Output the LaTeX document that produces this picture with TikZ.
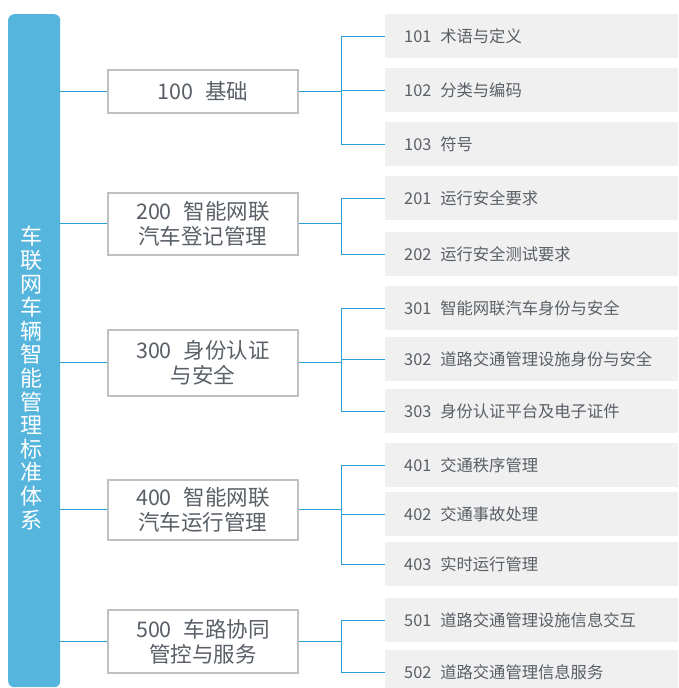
\documentclass[tikz,border=0pt]{standalone}
\usepackage{fontspec}
\setmainfont{Noto Sans CJK SC}
\usetikzlibrary{positioning}

\definecolor{barblue}{HTML}{55B5DD}
\definecolor{linkblue}{HTML}{2B9FD6}
\definecolor{boxgray}{HTML}{C0C0C0}
\definecolor{itemgray}{HTML}{F0F0F0}
\definecolor{txtgray}{HTML}{595F66}

\newcommand{\numgap}{\hspace{0.55em}}

\tikzset{
  bar/.style={fill=barblue, rounded corners=6pt, minimum width=52pt, minimum height=673pt, anchor=north west, inner sep=0pt},
  bartext/.style={text=white, align=center, font=\fontsize{22}{23.6}\selectfont, inner sep=0pt},
  catbox/.style={draw=boxgray, line width=1.8pt, fill=white, minimum width=190pt, anchor=north west, align=center, text=txtgray, font=\fontsize{21.5}{25}\selectfont, inner sep=0pt},
  itembox/.style={fill=itemgray, text width=255pt, inner xsep=19pt, inner ysep=0pt, minimum height=44pt, anchor=north west, text=txtgray, font=\fontsize{16.3}{18}\selectfont},
  link/.style={draw=linkblue, line width=1.1pt}
}

\begin{document}
\begin{tikzpicture}[x=1pt,y=-1pt]
 \clip (0,0) rectangle (678,688);
 \fill[white] (0,0) rectangle (678,688);

 % root bar
 \node[bar] (root) at (8,14) {};
 \node[bartext] (title) at (31,378) {车\\联\\网\\车\\辆\\智\\能\\管\\理\\标\\准\\体\\系};

 % first level
 \node[catbox, minimum height=43pt] (c100) at (107,69) {100\numgap 基础};
 \node[catbox, minimum height=62pt] (c200) at (107,192) {200\numgap 智能网联\\汽车登记管理};
 \node[catbox, minimum height=66pt] (c300) at (107,329) {300\numgap 身份认证\\与安全};
 \node[catbox, minimum height=60pt] (c400) at (107,479) {400\numgap 智能网联\\汽车运行管理};
 \node[catbox, minimum height=63pt] (c500) at (107,609) {500\numgap 车路协同\\管控与服务};

 % second level
 \node[itembox] (c101) at (385,14) {101\numgap 术语与定义};
 \node[itembox] (c102) at (385,68) {102\numgap 分类与编码};
 \node[itembox] (c103) at (385,122) {103\numgap 符号};
 \node[itembox] (c201) at (385,176) {201\numgap 运行安全要求};
 \node[itembox] (c202) at (385,232) {202\numgap 运行安全测试要求};
 \node[itembox] (c301) at (385,286) {301\numgap 智能网联汽车身份与安全};
 \node[itembox] (c302) at (385,337) {302\numgap 道路交通管理设施身份与安全};
 \node[itembox] (c303) at (385,389) {303\numgap 身份认证平台及电子证件};
 \node[itembox] (c401) at (385,443) {401\numgap 交通秩序管理};
 \node[itembox] (c402) at (385,492) {402\numgap 交通事故处理};
 \node[itembox] (c403) at (385,542) {403\numgap 实时运行管理};
 \node[itembox] (c501) at (385,598) {501\numgap 道路交通管理设施信息交互};
 \node[itembox] (c502) at (385,650) {502\numgap 道路交通管理信息服务};

 % connectors
 \foreach \p in {c100,c200,c300,c400,c500}
  \draw[link] (root.east |- \p.west) -- (\p.west);
 \foreach \p/\cs in {c100/{c101,c102,c103}, c200/{c201,c202}, c300/{c301,c302,c303}, c400/{c401,c402,c403}, c500/{c501,c502}}
  \foreach \c in \cs
   \draw[link] (\p.east) -- ++(43,0) |- (\c.west);
\end{tikzpicture}
\end{document}
